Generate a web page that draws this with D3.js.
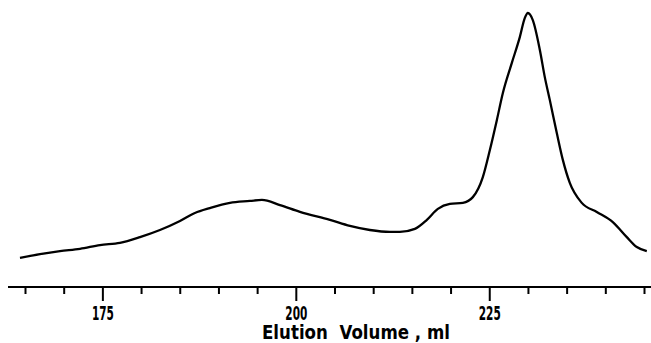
<!DOCTYPE html>
<html>
<head>
<meta charset="utf-8">
<script src="https://cdn.jsdelivr.net/npm/d3@7"></script>
<style>
body { margin: 0; background: #fff; }
text { font-family: "DejaVu Sans", sans-serif; fill: #000; }
</style>
</head>
<body>
<div id="chart"></div>
<script>
// elution volume (ml) and relative absorbance
const volume = [164.35, 166.94, 169.52, 172.11, 174.69, 177.27, 179.86, 182.44, 185.03, 186.96,
  188.90, 191.49, 194.07, 195.62, 197.95, 200.53, 204.41, 206.99, 209.57, 212.16,
  213.45, 215.39, 216.94, 218.36, 219.91, 221.59, 222.88, 224.17, 225.08, 225.98,
  226.76, 227.92, 228.95, 229.60, 229.99, 230.63, 231.54, 232.18, 232.83, 233.73,
  234.51, 235.41, 236.96, 238.90, 240.97, 242.78, 244.07, 245.36];
const absorbance = [0.106, 0.120, 0.131, 0.139, 0.153, 0.161, 0.182, 0.208, 0.241, 0.270,
  0.288, 0.307, 0.314, 0.318, 0.299, 0.274, 0.245, 0.223, 0.208, 0.201,
  0.201, 0.212, 0.245, 0.285, 0.303, 0.307, 0.328, 0.401, 0.500, 0.609,
  0.708, 0.818, 0.912, 0.982, 1.000, 0.974, 0.865, 0.766, 0.682, 0.562,
  0.464, 0.380, 0.307, 0.274, 0.237, 0.182, 0.146, 0.131];

const majorTicks = [175, 200, 225];
const minorTicks = [165, 170, 180, 185, 190, 195, 205, 210, 215, 220, 230, 235, 240, 245];
const xTitle = "Elution  Volume , ml";

const W = 651, H = 343;
const axisY = 287;

const svg = d3.select("#chart").append("svg")
  .attr("width", W).attr("height", H);

const x = d3.scaleLinear().domain([165, 245]).range([25, 644]);
const y = d3.scaleLinear().domain([0, 1]).range([axisY, 13]);

const data = volume.map((v, i) => ({ v: v, a: absorbance[i] }));

// trace
const line = d3.line()
  .x(d => x(d.v))
  .y(d => y(d.a))
  .curve(d3.curveMonotoneX);

svg.append("path")
  .attr("d", line(data))
  .attr("fill", "none")
  .attr("stroke", "#000")
  .attr("stroke-width", 2.3)
  .attr("stroke-linejoin", "round");

// axis line
svg.append("line")
  .attr("x1", 8).attr("x2", W)
  .attr("y1", axisY).attr("y2", axisY)
  .attr("stroke", "#000").attr("stroke-width", 2);

// minor ticks
const gMinor = svg.append("g")
  .attr("transform", `translate(0,${axisY})`)
  .call(d3.axisBottom(x).tickValues(minorTicks).tickSize(7).tickFormat(""));

// major ticks + labels
const gMajor = svg.append("g")
  .attr("transform", `translate(0,${axisY})`)
  .call(d3.axisBottom(x).tickValues(majorTicks).tickSize(14).tickFormat(d3.format("d")));

[gMinor, gMajor].forEach(g => {
  g.select(".domain").remove();
  g.attr("font-size", null).attr("font-family", null);
  g.selectAll(".tick line").attr("stroke", "#000").attr("stroke-width", 2);
});

// condensed look: squeeze text horizontally to the reference widths
gMajor.selectAll(".tick text")
  .style("font-size", "20px")
  .style("font-weight", "bold")
  .attr("dy", null)
  .attr("y", 33)
  .each(function() {
    const len = this.getComputedTextLength();
    d3.select(this).attr("transform", `scale(${22 / len},1)`);
  });

// axis title
const title = svg.append("g")
  .attr("transform", "translate(262,339)")
  .append("text")
  .style("font-size", "19px")
  .style("font-weight", "bold")
  .style("white-space", "pre")
  .text(xTitle);
title.attr("transform", `scale(${188 / title.node().getComputedTextLength()},1)`);
</script>
</body>
</html>
